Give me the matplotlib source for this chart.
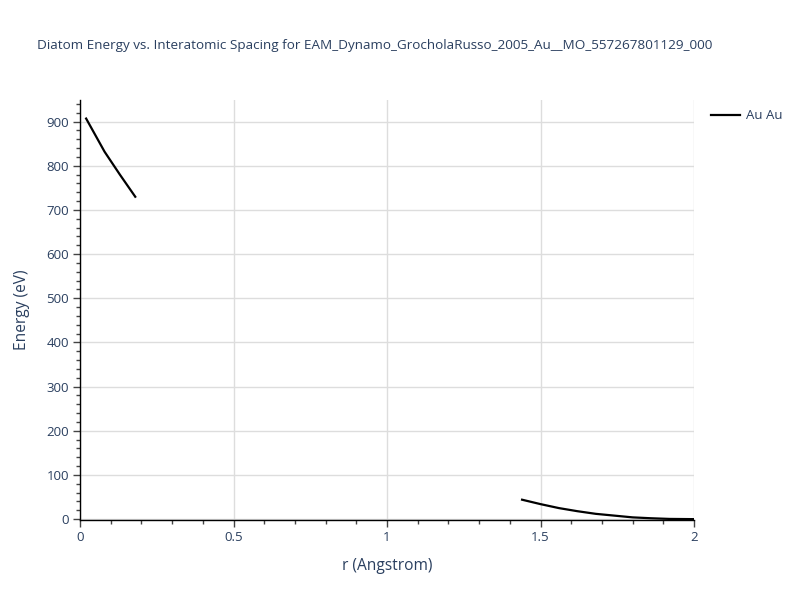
import numpy as np
import matplotlib
matplotlib.use("Agg")
import matplotlib.pyplot as plt
from matplotlib.ticker import MultipleLocator

r_values = [0.02, 0.08, 0.13, 0.18, np.nan,
            1.44, 1.50, 1.56, 1.62, 1.68, 1.74, 1.80, 1.86, 1.92, 2.00]
energy_values = [907, 832, 780, 730, np.nan,
                 44, 34, 25, 18, 12, 8, 4, 2, 0.5, 0.0]
series_name = "Au Au"
title = "Diatom Energy vs. Interatomic Spacing for EAM_Dynamo_GrocholaRusso_2005_Au__MO_557267801129_000"

txt = "#2a3f5f"
plt.rcParams['font.family'] = ['Open Sans', 'DejaVu Sans']

fig = plt.figure(figsize=(8, 6), dpi=100)
ax = fig.add_axes([0.1, 0.1333, 0.7675, 0.7])

ax.plot(r_values, energy_values, color="black", lw=1.6, label=series_name)

ax.set_xlim(0, 2)
ax.set_ylim(-2, 949)
ax.xaxis.set_major_locator(MultipleLocator(0.5))
ax.xaxis.set_minor_locator(MultipleLocator(0.1))
ax.yaxis.set_major_locator(MultipleLocator(100))
ax.yaxis.set_minor_locator(MultipleLocator(20))
ax.set_xticks([0, 0.5, 1, 1.5, 2])
ax.set_xticklabels(["0", "0.5", "1", "1.5", "2"])

ax.grid(True, which="major", color="#dddddd", lw=1)
ax.set_axisbelow(True)
for s in ["top", "right"]:
    ax.spines[s].set_visible(False)
for s in ["left", "bottom"]:
    ax.spines[s].set_color("black")
    ax.spines[s].set_linewidth(1)

ax.tick_params(which="major", direction="out", length=5, width=1, color="#444444",
               labelcolor=txt, labelsize=9.5, pad=3)
ax.tick_params(which="minor", direction="out", length=3, width=1, color="#444444")

ax.set_xlabel("r (Angstrom)", color=txt, fontsize=11.2, labelpad=10)
ax.set_ylabel("Energy (eV)", color=txt, fontsize=11.2, labelpad=12)

fig.text(0.468, 0.925, title, color=txt, fontsize=9.7, ha="center", va="center")

leg = ax.legend(loc="upper left", bbox_to_anchor=(1.015, 0.997), frameon=False,
                fontsize=9.5, handlelength=2.2, handletextpad=0.45, borderaxespad=0.2)
for t in leg.get_texts():
    t.set_color(txt)

fig.savefig("out.png", dpi=100)
